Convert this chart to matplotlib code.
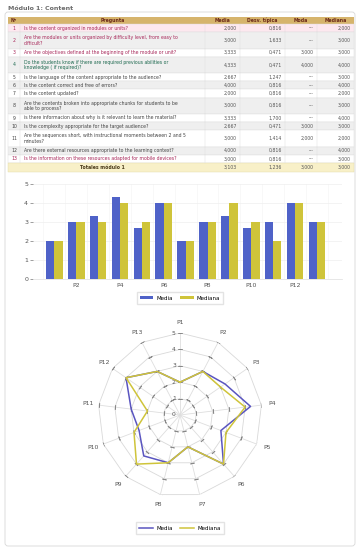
import matplotlib
matplotlib.use("Agg")
import matplotlib.pyplot as plt
import numpy as np
from matplotlib.patches import Rectangle, FancyBboxPatch
from matplotlib.lines import Line2D

# ---- data ----
labels = ["P%d" % i for i in range(1, 14)]
preguntas = [
    "Is the content organized in modules or units?",
    "Are the modules or units organized by difficulty level, from easy to\ndifficult?",
    "Are the objectives defined at the beginning of the module or unit?",
    "Do the students know if there are required previous abilities or\nknowledge ( if required)?",
    "Is the language of the content appropriate to the audience?",
    "Is the content correct and free of errors?",
    "Is the content updated?",
    "Are the contents broken into appropriate chunks for students to be\nable to process?",
    "is there informacion about why is it relevant to learn the material?",
    "Is the complexity appropriate for the target audience?",
    "Are the sequences short, with instructional moments between 2 and 5\nminutes?",
    "Are there external resources appropriate to the learning context?",
    "Is the information on these resources adapted for mobile devices?",
]
media = [2.000, 3.000, 3.333, 4.333, 2.667, 4.000, 2.000, 3.000, 3.333, 2.667, 3.000, 4.000, 3.000]
desv = [0.816, 1.633, 0.471, 0.471, 1.247, 0.816, 0.816, 0.816, 1.700, 0.471, 1.414, 0.816, 0.816]
moda = [None, None, 3.000, 4.000, None, None, None, None, None, 3.000, 2.000, None, None]
mediana = [2, 3, 3, 4, 3, 4, 2, 3, 4, 3, 2, 4, 3]
totales = [3.103, 1.236, 3.000, 3.000]
headers = ["Nº", "Pregunta", "Media", "Desv. típica", "Moda", "Mediana"]

c_media = "#4f62c8"
c_mediana = "#cfc43a"
plt.rcParams['font.family'] = ['DejaVu Sans']


def fmt(v):
    return "---" if v is None else ("%.3f" % v).replace(".", ",")


fig = plt.figure(figsize=(3.61, 5.5), dpi=100)
fig.patch.set_facecolor("white")

# ---- table (pixel coords) ----
tab = fig.add_axes([0, 0, 1, 1])
tab.set_xlim(0, 361)
tab.set_ylim(550, 0)
tab.axis("off")

tab.add_patch(FancyBboxPatch((5, 12), 350, 534, boxstyle="round,pad=0,rounding_size=3",
                             fc="none", ec="#d8d8d8", lw=0.6))
tab.text(8, 8, "Módulo 1: Content", fontsize=4.5, color="#6a6a6a", fontweight="bold",
         va="center", ha="left", bbox=dict(fc="white", ec="none", pad=0.5))

cols = [8, 20, 205, 240, 285, 317, 354]
fs = 3.3
# header
tab.add_patch(Rectangle((cols[0], 17), cols[-1] - cols[0], 7, fc="#d6b46c", ec="none"))
for j, h in enumerate(headers):
    tab.text((cols[j] + cols[j + 1]) / 2, 20.6, h, fontsize=fs, fontweight="bold",
             color="#6b2a1a", ha="center", va="center")

y = 24
for i in range(13):
    h = 16.3 if "\n" in preguntas[i] else 8.2
    bg = "white" if i % 2 == 0 else "#efefef"
    if i == 0:
        bg = "#fde8ef"
    tc = "#444444"
    if i in (0, 1, 2, 12):
        tc = "#a8285a"
    elif i == 3:
        tc = "#1f6a50"
    tab.add_patch(Rectangle((cols[0], y), cols[-1] - cols[0], h, fc=bg, ec="#dddddd", lw=0.3))
    for cx in cols[1:-1]:
        tab.plot([cx, cx], [y, y + h], color="#dddddd", lw=0.3)
    yc = y + h / 2
    tab.text(14, yc, str(i + 1), fontsize=fs, color=tc, ha="center", va="center")
    tab.text(24, yc, preguntas[i], fontsize=fs, color=tc, ha="left", va="center", linespacing=1.1)
    vals = [media[i], desv[i], moda[i], float(mediana[i])]
    for j, v in enumerate(vals):
        tab.text(cols[j + 3] - 3, yc, fmt(v), fontsize=fs, color="#555555", ha="right", va="center")
    y += h

tab.add_patch(Rectangle((cols[0], y), cols[-1] - cols[0], 9, fc="#f8f0c8", ec="#e2d9a8", lw=0.3))
tab.text((cols[1] + cols[2]) / 2 - 10, y + 4.5, "Totales módulo 1", fontsize=fs, fontweight="bold",
         color="#4a3a1a", ha="center", va="center")
for j, v in enumerate(totales):
    tab.text(cols[j + 3] - 3, y + 4.5, fmt(v), fontsize=fs, color="#555555", ha="right", va="center")

# ---- bar chart ----
ax = fig.add_axes([33 / 361, 1 - 279 / 550, (342 - 33) / 361, (279 - 184) / 550])
x = np.arange(len(labels))
w = 0.38
b1 = ax.bar(x - w / 2, media, w, color=c_media, label="Media", zorder=3)
b2 = ax.bar(x + w / 2, mediana, w, color=c_mediana, label="Mediana", zorder=3)
ax.set_xlim(-0.98, 13.15)
ax.set_ylim(0, 5)
ax.set_yticks(range(6))
ax.set_xticks(x[1::2])
ax.set_xticklabels(labels[1::2])
ax.tick_params(labelsize=4.5, colors="#555555", length=2, width=0.4, pad=1.5)
ax.tick_params(axis="x", length=0, pad=3)
ax.grid(axis="y", color="#eeeeee", lw=0.5, zorder=0)
for gx in np.arange(-0.5, 13, 1):
    ax.axvline(gx, color="#f4f4f4", lw=0.4, zorder=0)
for s in ["top", "right", "left"]:
    ax.spines[s].set_visible(False)
ax.spines["bottom"].set_color("#dddddd")
ax.spines["bottom"].set_linewidth(0.5)
fig.legend(handles=[b1, b2], loc="center", bbox_to_anchor=(180 / 361, 1 - 298 / 550), ncol=2,
           fontsize=4, frameon=True, edgecolor="#dddddd", fancybox=False, handlelength=2.4,
           handleheight=0.6, columnspacing=1.4, borderpad=0.6, handletextpad=0.5)

# ---- radar chart ----
R = 82
cxp, cyp = 180, 415
rx = fig.add_axes([(cxp - R) / 361, 1 - (cyp + R) / 550, 2 * R / 361, 2 * R / 550], projection="polar")
rx.set_theta_offset(np.pi / 2)
rx.set_theta_direction(-1)
rx.set_ylim(0, 5)
rx.grid(False)
rx.spines["polar"].set_visible(False)
rx.set_xticks([])
rx.set_yticks([])
rx.patch.set_alpha(0)

ang = np.linspace(0, 2 * np.pi, len(labels), endpoint=False)
ang_c = np.concatenate([ang, ang[:1]])
for k in range(1, 6):
    rx.plot(ang_c, [k] * len(ang_c), color="#d9d9d9", lw=0.6, zorder=1)
for a in ang:
    rx.plot([a, a], [0, 5], color="#dedede", lw=0.6, zorder=1)
    mk = (2, 2, 90 - np.degrees(a))
    rx.plot([a] * 5, range(1, 6), ls="none", marker=mk, ms=3, mew=0.6, color="#888888", zorder=2)

rx.plot(ang_c, media + media[:1], color="#5a55c0", lw=1.1, zorder=4)
rx.plot(ang_c, mediana + mediana[:1], color=c_mediana, lw=1.1, zorder=5)

for k in range(6):
    rx.annotate(str(k), (0, k), xytext=(-3, 0), textcoords="offset points", fontsize=4.3,
                color="#555555", ha="right", va="center", annotation_clip=False)
for a, lab in zip(ang, labels):
    rx.text(a, 5.65, lab, fontsize=4.5, color="#555555", ha="center", va="center", clip_on=False)

lh = [Line2D([], [], color="#5a55c0", lw=1.1), Line2D([], [], color=c_mediana, lw=1.1)]
fig.legend(handles=lh, labels=["Media", "Mediana"], loc="center",
           bbox_to_anchor=(180 / 361, 1 - 528 / 550), ncol=2, fontsize=4, frameon=True,
           edgecolor="#dddddd", fancybox=False, handlelength=2.5, columnspacing=1.4,
           borderpad=0.6, handletextpad=0.5)

fig.savefig("out.png", dpi=100)
